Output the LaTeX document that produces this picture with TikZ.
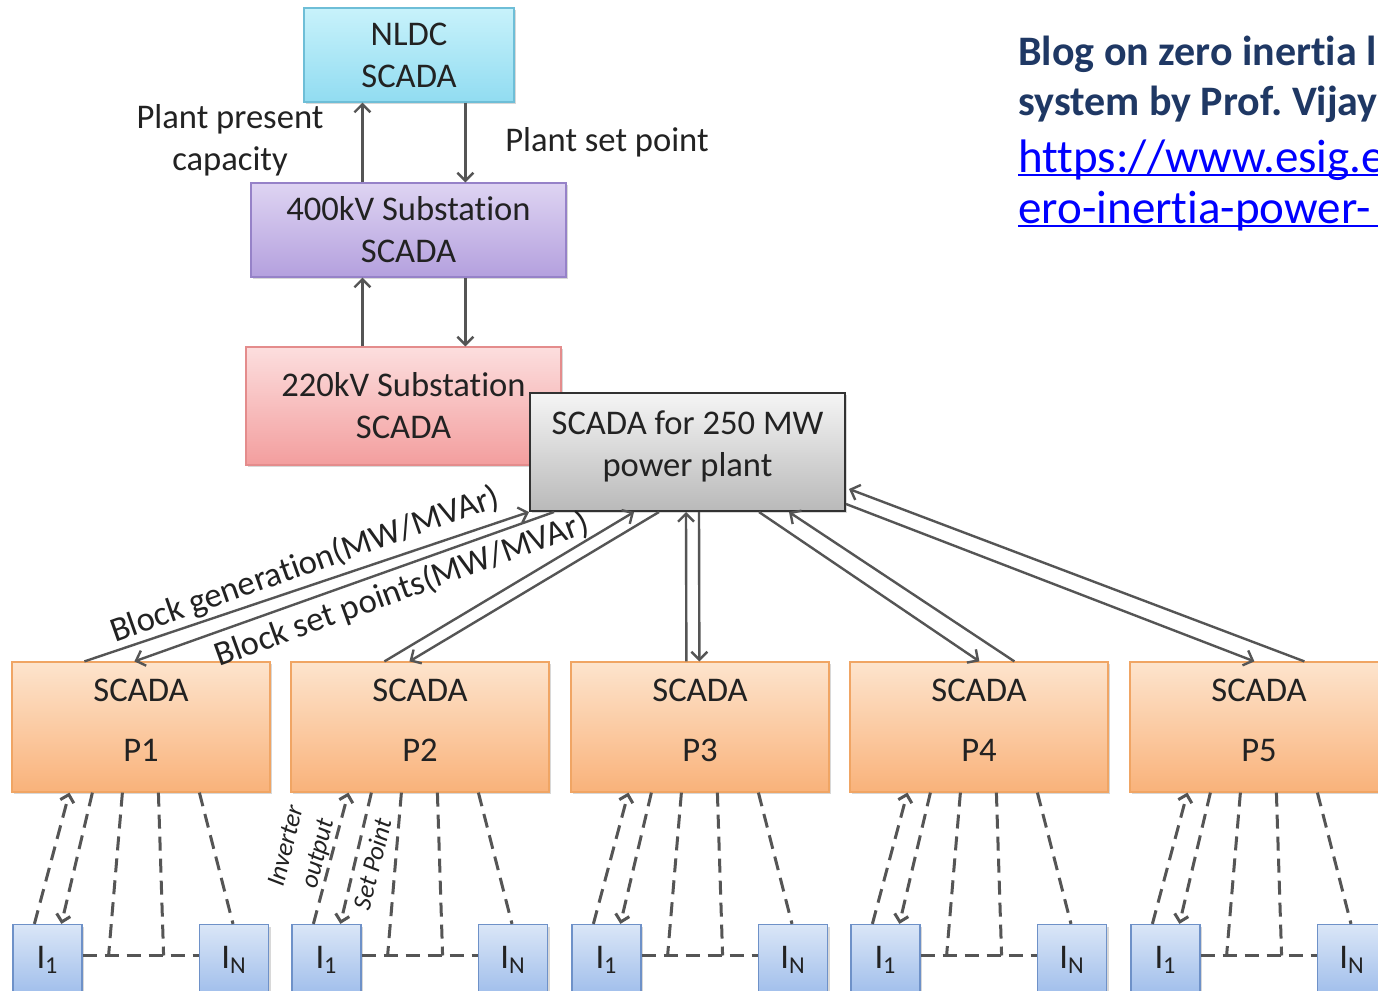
\documentclass[tikz,border=0pt]{standalone}
\usepackage{fontspec}
\setmainfont{Carlito}[Ligatures=NoCommon]
\usetikzlibrary{arrows.meta,shadows}
\definecolor{arrc}{HTML}{555555}
\definecolor{txt}{HTML}{222222}
\definecolor{navy}{HTML}{1F3864}
\definecolor{linkblue}{HTML}{0000FF}
\begin{document}
\begin{tikzpicture}[x=0.5pt,y=-0.5pt,
  box/.style={draw, line width=0.6pt, align=center, text=txt, inner sep=0pt,
    font=\fontsize{17.3}{21}\selectfont,
    drop shadow={shadow xshift=1.2pt, shadow yshift=-1.2pt, opacity=0.25, fill=black!60}},
  nbox/.style={box, top color={rgb,255:red,200;green,242;blue,251}, bottom color={rgb,255:red,145;green,220;blue,241}, draw={rgb,255:red,110;green,190;blue,215}},
  kbox4/.style={box, top color={rgb,255:red,222;green,212;blue,242}, bottom color={rgb,255:red,180;green,160;blue,222}, draw={rgb,255:red,150;green,130;blue,200}},
  kbox2/.style={box, top color={rgb,255:red,252;green,222;blue,222}, bottom color={rgb,255:red,243;green,158;blue,158}, draw={rgb,255:red,228;green,140;blue,140}},
  gbox/.style={box, top color={rgb,255:red,245;green,245;blue,245}, bottom color={rgb,255:red,185;green,185;blue,185}, draw={rgb,255:red,50;green,50;blue,50}, line width=1pt, text depth=8.5pt},
  pbox/.style={box, top color={rgb,255:red,253;green,228;blue,205}, bottom color={rgb,255:red,249;green,178;blue,122}, draw={rgb,255:red,240;green,165;blue,100}, minimum width=129pt, minimum height=65pt, text depth=7pt},
  ibox/.style={box, top color={rgb,255:red,218;green,230;blue,247}, bottom color={rgb,255:red,160;green,190;blue,235}, draw={rgb,255:red,110;green,145;blue,200}, minimum width=34.5pt, minimum height=35pt},
  lab/.style={align=center, text=txt, inner sep=0pt, font=\fontsize{17.3}{21}\selectfont},
  ilab/.style={align=center, text=txt, inner sep=0pt, font=\fontsize{13}{16.4}\selectfont\itshape},
  arr/.style={draw=arrc, line width=1.2pt, -{Straight Barb[length=4pt,width=8pt]}},
  dsh/.style={draw=arrc, line width=1.5pt, dash pattern=on 7pt off 4pt},
  dsharr/.style={dsh, -{Straight Barb[length=3.5pt,width=7pt]}},
  blog/.style={anchor=base west, inner sep=0pt, text=navy, font=\fontsize{21}{25}\selectfont\bfseries},
  url/.style={anchor=base west, inner sep=0pt, text=linkblue, font=\fontsize{23.5}{28}\selectfont}
]
\useasboundingbox (0,0) rectangle (1378,991);
\fill[white] (0,0) rectangle (1378,991);
\clip (0,0) rectangle (1378,991);

% upper chain
\node[nbox, minimum width=105pt, minimum height=47pt] (nldc) at (409,55) {NLDC\\SCADA};
\node[kbox4, minimum width=157.5pt, minimum height=47pt] (k4) at (408.5,230) {400kV Substation\\SCADA};
\node[kbox2, minimum width=157.5pt, minimum height=59pt] (k2) at (403.5,406) {220kV Substation\\SCADA};
\node[gbox, minimum width=157.5pt, minimum height=59pt] (s) at (687.5,452) {SCADA for 250 MW\\power plant};

\draw[arr] ([xshift=56pt]k4.north west) -- ([xshift=29.5pt]nldc.south west);
\draw[arr] ([xshift=81pt]nldc.south west) -- ([xshift=107.5pt]k4.north west);
\draw[arr] ([xshift=58.5pt]k2.north west) -- ([xshift=56pt]k4.south west);
\draw[arr] ([xshift=107.5pt]k4.south west) -- ([xshift=110pt]k2.north west);

\node[lab] (lpc) at (230,140) {Plant present\\capacity};
\node[lab] (lsp) at (607,142) {Plant set point};

% plant SCADA boxes and inverters
\foreach \o [count=\i] in {0,279,559,838,1118} {
  \node[pbox] (p\i) at (141+\o,727) {SCADA\\[9pt]P\i};
  \node[ibox] (a\i) at (47.5+\o,959.5) {I\textsubscript{1}};
  \node[ibox] (b\i) at (234+\o,959.5) {I\textsubscript{N}};
  \draw[dsharr] ([xshift=11pt]a\i.north west) -- ([xshift=29pt]p\i.south west);
  \draw[dsharr] ([xshift=40.5pt]p\i.south west) -- ([xshift=24.5pt]a\i.north west);
  \draw[dsh] ([xshift=55.5pt]p\i.south west) -- ([xshift=13pt,yshift=2pt]a\i.east);
  \draw[dsh] ([xshift=73.5pt]p\i.south west) -- ([xshift=40.5pt,yshift=2pt]a\i.east);
  \draw[dsh] ([xshift=94pt]p\i.south west) -- ([xshift=-0.5pt]b\i.north);
  \draw[dsh] ([yshift=2pt]a\i.east) -- ([yshift=2pt]b\i.west);
}

% plant SCADA to block SCADA links
\draw[arr] ([xshift=36.5pt]p1.north west) -- (s.south west);
\draw[arr] ([xshift=12.5pt]s.south west) -- ([xshift=61.5pt]p1.north west);
\draw[arr] ([xshift=47pt]p2.north west) -- ([xshift=52.5pt]s.south west);
\draw[arr] ([xshift=65pt]s.south west) -- ([xshift=59.5pt]p2.north west);
\draw[arr] ([xshift=58pt]p3.north west) -- ([xshift=78.5pt]s.south west);
\draw[arr] ([xshift=85pt]s.south west) -- ([xshift=64.5pt]p3.north west);
\draw[arr] ([xshift=115pt]s.south west) -- ([xshift=65pt]p4.north west);
\draw[arr] ([xshift=82.5pt]p4.north west) -- ([xshift=130pt]s.south west);
\draw[arr] ([yshift=4pt]s.south east) -- ([xshift=62.5pt]p5.north west);
\draw[arr] ([xshift=87.5pt]p5.north west) -- ([xshift=1.5pt,yshift=11.5pt]s.south east);

\node[lab, rotate=19.5] (lbg) at (305,565) {Block generation(MW/MVAr)};
\node[lab, rotate=20] (lbs) at (402,590) {Block set points(MW/MVAr)};

\node[ilab, rotate=76] (linv) at (303,850) {Inverter\\output};
\node[ilab, rotate=76] (lset) at (372,864) {Set Point};

% blog reference text
\node[blog] (bl1) at (1018,65) {Blog on zero inertia l};
\node[blog] (bl2) at (1018,115) {system by Prof.\ Vijay};
\node[url] (u1) at (1018,172) {https://www.esig.e};
\node[url] (u2) at (1018,223) {ero-inertia-power-};
\draw[linkblue, line width=1pt] ([yshift=-1.7pt]u1.base west) -- ++(400,0);
\draw[linkblue, line width=1pt] ([yshift=-1.7pt]u2.base west) -- ++(400,0);
\end{tikzpicture}
\end{document}
